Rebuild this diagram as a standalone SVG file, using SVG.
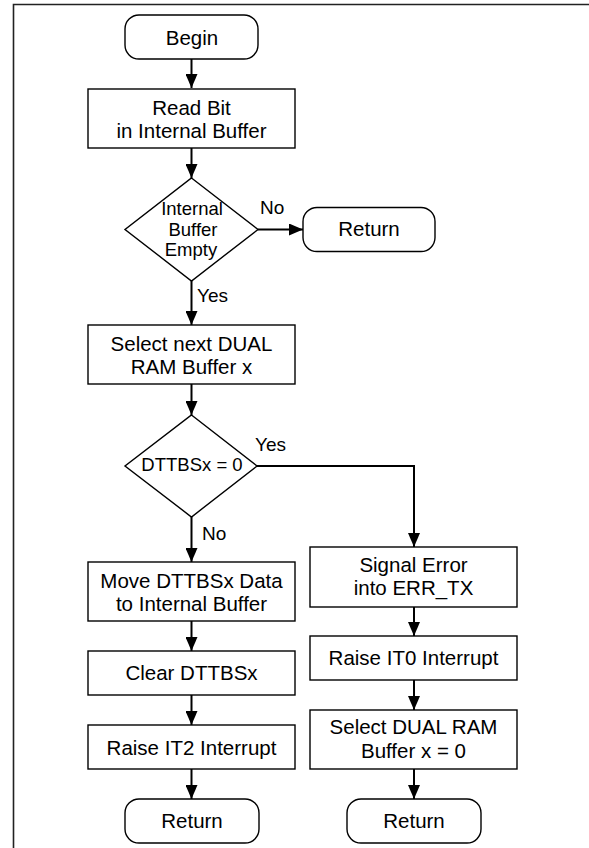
<svg xmlns="http://www.w3.org/2000/svg" width="589" height="848" viewBox="0 0 589 848">
<style>
.box{fill:#fff;stroke:#000;stroke-width:1.4}
.t{font-family:"Liberation Sans",Arial,sans-serif;font-size:20.5px;fill:#000;text-anchor:middle}
.s{font-size:18.5px}
.lbl{font-family:"Liberation Sans",Arial,sans-serif;font-size:19px;fill:#000}
.c{fill:none;stroke:#000;stroke-width:2}
</style>
<defs>
<marker id="ah" viewBox="0 0 14 12" refX="14" refY="6" markerWidth="14" markerHeight="12" markerUnits="userSpaceOnUse" orient="auto">
<path d="M0,0 L14,6 L0,12 Z" fill="#000"/>
</marker>
</defs>
<rect width="589" height="848" fill="#fff"/>
<path d="M13.5,848 V4.5 H589" fill="none" stroke="#222" stroke-width="1.6"/>
<g id="connectors">
<path class="c" d="M191.5,59 V88" marker-end="url(#ah)"/>
<path class="c" d="M191.5,148 V178" marker-end="url(#ah)"/>
<path class="c" d="M258,229.5 H303" marker-end="url(#ah)"/>
<path class="c" d="M191.5,281 V325" marker-end="url(#ah)"/>
<path class="c" d="M191.5,384 V415" marker-end="url(#ah)"/>
<path class="c" d="M257,466 H414 V547" marker-end="url(#ah)"/>
<path class="c" d="M191.5,517 V562" marker-end="url(#ah)"/>
<path class="c" d="M191.5,621 V651" marker-end="url(#ah)"/>
<path class="c" d="M191.5,695 V725" marker-end="url(#ah)"/>
<path class="c" d="M191.5,769 V799" marker-end="url(#ah)"/>
<path class="c" d="M414,607 V636" marker-end="url(#ah)"/>
<path class="c" d="M414,680 V710" marker-end="url(#ah)"/>
<path class="c" d="M414,769 V799" marker-end="url(#ah)"/>
<text class="lbl" x="260" y="214">No</text>
<text class="lbl" x="197" y="302">Yes</text>
<text class="lbl" x="255" y="451">Yes</text>
<text class="lbl" x="202" y="540">No</text>
</g>
<g id="begin">
<rect class="box" x="125" y="15" width="133" height="44" rx="14"/>
<text class="t" x="192" y="45">Begin</text>
</g>
<g id="read-bit">
<rect class="box" x="88" y="89" width="207" height="59"/>
<text class="t" x="191.5" y="115">Read Bit</text>
<text class="t" x="191.5" y="138">in Internal Buffer</text>
</g>
<g id="buffer-empty">
<path class="box" d="M191.5,178 L258,229.5 L191.5,281 L125,229.5 Z"/>
<text class="t s" x="192" y="215">Internal</text>
<text class="t s" x="193" y="236">Buffer</text>
<text class="t s" x="191" y="256">Empty</text>
</g>
<g id="return-1">
<rect class="box" x="303" y="207.5" width="132" height="44" rx="14"/>
<text class="t" x="369" y="236">Return</text>
</g>
<g id="select-next">
<rect class="box" x="88" y="325" width="207" height="59"/>
<text class="t" x="191.5" y="351">Select next DUAL</text>
<text class="t" x="191.5" y="374">RAM Buffer x</text>
</g>
<g id="dttbs-check">
<path class="box" d="M191.5,415 L257,466 L191.5,517 L125,466 Z"/>
<text class="t s" x="192" y="471">DTTBSx = 0</text>
</g>
<g id="move-data">
<rect class="box" x="88" y="562" width="207" height="59"/>
<text class="t" x="191.5" y="588">Move DTTBSx Data</text>
<text class="t" x="191.5" y="611">to Internal Buffer</text>
</g>
<g id="clear">
<rect class="box" x="88" y="651" width="207" height="44"/>
<text class="t" x="191.5" y="680">Clear DTTBSx</text>
</g>
<g id="raise-it2">
<rect class="box" x="88" y="725" width="207" height="44"/>
<text class="t" x="191.5" y="755">Raise IT2 Interrupt</text>
</g>
<g id="return-2">
<rect class="box" x="125" y="799" width="134" height="44" rx="14"/>
<text class="t" x="192" y="828">Return</text>
</g>
<g id="signal-error">
<rect class="box" x="310" y="547" width="207" height="60"/>
<text class="t" x="413.5" y="572">Signal Error</text>
<text class="t" x="413.5" y="595">into ERR_TX</text>
</g>
<g id="raise-it0">
<rect class="box" x="310" y="636" width="207" height="44"/>
<text class="t" x="413.5" y="665">Raise IT0 Interrupt</text>
</g>
<g id="select-zero">
<rect class="box" x="310" y="710" width="207" height="59"/>
<text class="t" x="413.5" y="734">Select DUAL RAM</text>
<text class="t" x="413.5" y="758">Buffer x = 0</text>
</g>
<g id="return-3">
<rect class="box" x="347" y="799" width="134" height="44" rx="14"/>
<text class="t" x="414" y="828">Return</text>
</g>
</svg>
